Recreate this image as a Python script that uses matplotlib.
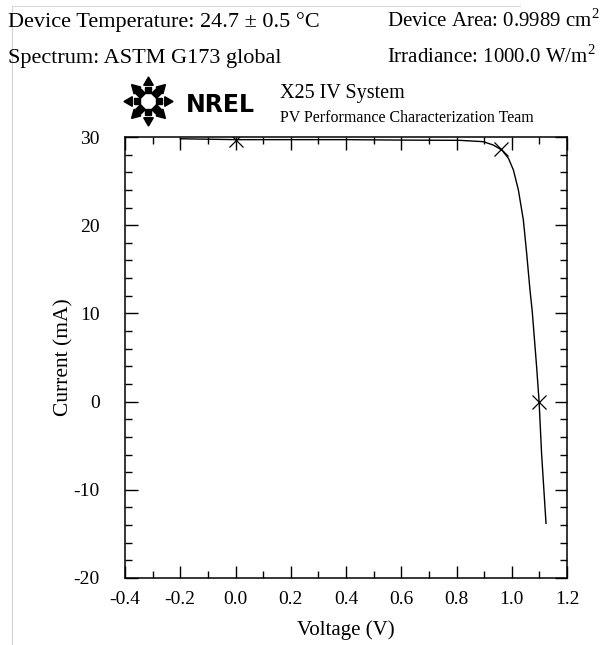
import numpy as np
import matplotlib
matplotlib.use("Agg")
import matplotlib.pyplot as plt
from matplotlib.ticker import MultipleLocator, FormatStrFormatter
from matplotlib.lines import Line2D

# data
voltage = [-0.2, -0.1, 0.0, 0.2, 0.4, 0.6, 0.813, 0.897, 0.933, 0.964,
           0.988, 1.006, 1.024, 1.042, 1.054, 1.066, 1.074, 1.090, 1.099,
           1.108, 1.124]
current = [29.8, 29.75, 29.7, 29.7, 29.7, 29.65, 29.62, 29.47, 29.09, 28.53,
           27.58, 26.26, 23.99, 20.59, 16.81, 12.65, 10.3, 3.96, 0.0,
           -5.9, -13.8]
# Isc, Pmax, Voc points
mark_v = [0.0, 0.961, 1.099]
mark_i = [29.66, 28.65, 0.0]

header_left = ["Device Temperature: 24.7 \u00b1 0.5 \u00b0C", "Spectrum: ASTM G173 global"]
header_right = ["Device Area: 0.9989 cm$^{2}$", "Irradiance: 1000.0 W/m$^{2}$"]

plt.rcParams['font.family'] = ['Liberation Serif', 'DejaVu Serif']
plt.rcParams['mathtext.fontset'] = 'custom'
plt.rcParams['mathtext.rm'] = 'Liberation Serif'
plt.rcParams['axes.unicode_minus'] = False

W, H = 611, 645
fig = plt.figure(figsize=(W / 100, H / 100), dpi=100)

def px(x, y):
    return x / W, 1 - y / H

l, r, t, b = 125, 567, 137, 578
ax = fig.add_axes([l / W, 1 - b / H, (r - l) / W, (b - t) / H])

ax.plot(voltage, current, color='black', lw=1.0)
ax.plot(mark_v, mark_i, ls='none', marker='x', ms=10, mew=0.9, color='black')

ax.set_xlim(-0.4, 1.2)
ax.set_ylim(-20, 30)
ax.xaxis.set_major_locator(MultipleLocator(0.2))
ax.xaxis.set_minor_locator(MultipleLocator(0.1))
ax.yaxis.set_major_locator(MultipleLocator(10))
ax.yaxis.set_minor_locator(MultipleLocator(2))
ax.xaxis.set_major_formatter(FormatStrFormatter('%.1f'))
ax.tick_params(which='both', direction='in', top=True, right=True, width=1.0)
ax.tick_params(which='major', length=9)
ax.tick_params(which='minor', length=5)
ax.tick_params(axis='x', which='major', labelsize=14, pad=9)
ax.tick_params(axis='y', which='major', labelsize=14, pad=18)
for s in ax.spines.values():
    s.set_linewidth(1.1)

ax.set_xlabel("Voltage (V)", fontsize=15, labelpad=9)
ax.set_ylabel("Current (mA)", fontsize=15.5, labelpad=0)

# header text
fig.text(*px(8, 27), header_left[0], fontsize=16, va='baseline')
fig.text(*px(8, 63), header_left[1], fontsize=16, va='baseline')
fig.text(*px(387, 27), header_right[0], fontsize=15, va='baseline')
fig.text(*px(387, 63), header_right[1], fontsize=15, va='baseline')
fig.text(*px(280, 98), "X25 IV System", fontsize=14.5, va='baseline')
fig.text(*px(280, 122), "PV Performance Characterization Team", fontsize=11.5, va='baseline')

# NREL logo
cx, cy, rad = 148, 101, 19
for k in range(8):
    ang = np.deg2rad(90 - 45 * k)
    x0, y0 = px(cx + rad * np.cos(ang), cy - rad * np.sin(ang))
    fig.add_artist(Line2D([x0], [y0], marker=(3, 0, -45 * k), ms=8,
                          color='black', transform=fig.transFigure))
    x1, y1 = px(cx + (rad - 8) * np.cos(ang), cy - (rad - 8) * np.sin(ang))
    fig.add_artist(Line2D([x1], [y1], marker=(4, 0, 45 - 45 * k), ms=7,
                          color='black', transform=fig.transFigure))
fig.text(*px(186, 112), "NREL", fontsize=17, fontweight='bold',
         family='DejaVu Sans', va='baseline')

# light frame lines
fig.add_artist(Line2D([12 / W, 12 / W], [0, 1 - 6 / H], color='#d0d0d0', lw=0.8,
                      transform=fig.transFigure))
fig.add_artist(Line2D([12 / W, 520 / W], [1 - 6 / H, 1 - 6 / H], color='#d8d8d8', lw=0.8,
                      transform=fig.transFigure))

fig.savefig("out.png", dpi=100)
